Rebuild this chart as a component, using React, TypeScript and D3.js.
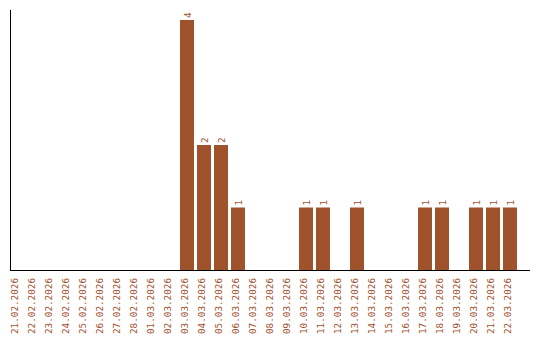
import React from "react";
import * as d3 from "d3";

const categories: string[] = [
  "21.02.2026", "22.02.2026", "23.02.2026", "24.02.2026", "25.02.2026",
  "26.02.2026", "27.02.2026", "28.02.2026", "01.03.2026", "02.03.2026",
  "03.03.2026", "04.03.2026", "05.03.2026", "06.03.2026", "07.03.2026",
  "08.03.2026", "09.03.2026", "10.03.2026", "11.03.2026", "12.03.2026",
  "13.03.2026", "14.03.2026", "15.03.2026", "16.03.2026", "17.03.2026",
  "18.03.2026", "19.03.2026", "20.03.2026", "21.03.2026", "22.03.2026",
];
const values: number[] = [
  0, 0, 0, 0, 0, 0, 0, 0, 0, 0,
  4, 2, 2, 1, 0, 0, 0, 1, 1, 0,
  1, 0, 0, 0, 1, 1, 0, 1, 1, 1,
];

const W = 540;
const H = 340;
const left = 10;
const right = 530;
const top = 10;
const bottom = 270;
const color = "#A0522D";
const font = "'DejaVu Sans Mono', monospace";

export default function App() {
  const x = d3
    .scaleBand<string>()
    .domain(categories)
    .range([left, 517])
    .paddingInner(3 / 17)
    .paddingOuter(0)
    .align(0);
  const y = d3.scaleLinear().domain([0, 4]).range([bottom, 20]);

  return (
    <svg
      width={W}
      height={H}
      style={{ position: "absolute", left: 0, top: 0 }}
    >
      <rect x={0} y={0} width={W} height={H} fill="#fff" />
      {categories.map((c, i) => {
        const v = values[i];
        if (!v) return null;
        const bx = x(c)!;
        const by = y(v);
        const cx = bx + x.bandwidth() / 2;
        return (
          <g key={c}>
            <rect
              x={bx}
              y={by}
              width={x.bandwidth()}
              height={bottom - by}
              fill={color}
            />
            <text
              transform={`translate(${cx + 3.5},${by - 2}) rotate(-90)`}
              fontFamily={font}
              fontSize={9.3}
              fill={color}
              textAnchor="start"
            >
              {v}
            </text>
          </g>
        );
      })}
      <line x1={left + 0.5} x2={left + 0.5} y1={top} y2={bottom} stroke="#000" strokeWidth={1} />
      <line x1={left} x2={right} y1={bottom + 0.5} y2={bottom + 0.5} stroke="#000" strokeWidth={1} />
      {categories.map((c) => {
        const cx = x(c)! + x.bandwidth() / 2;
        return (
          <text
            key={"t" + c}
            transform={`translate(${cx + 1},${278}) rotate(-90)`}
            fontFamily={font}
            fontSize={9.3}
            fill={color}
            textAnchor="end"
          >
            {c}
          </text>
        );
      })}
    </svg>
  );
}
